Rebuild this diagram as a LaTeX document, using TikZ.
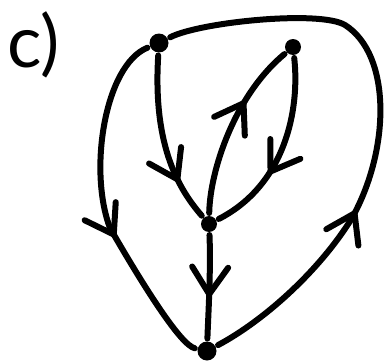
\documentclass[tikz,border=0pt]{standalone}
\usepackage{fontspec}
\setmainfont{Lato}
\usetikzlibrary{arrows.meta,decorations.markings}
\begin{document}
\begin{tikzpicture}[x=1pt, y=-1pt, line width=6pt, line cap=round, line join=round,
  vertex/.style={circle, fill=black, inner sep=0pt, minimum size=#1},
  vertex/.default=16pt,
  midarrow/.style={postaction={decorate}, decoration={markings, mark=at position #1 with {\arrow{Straight Barb[length=27pt, width=36pt, round]}}}}]
  \useasboundingbox (0,0) rectangle (386,364);
  \node[anchor=base west, inner sep=0pt, font=\fontsize{72}{72}\selectfont] (lbl) at (4,67) {c)};
  \node[vertex=19pt] (vtop) at (159,43) {};
  \node[vertex] (vright) at (293,47) {};
  \node[vertex] (vmid) at (209,224) {};
  \node[vertex=19pt] (vbot) at (207,351) {};
  \draw[midarrow=0.6] (vtop) .. controls (105,65) and (88,170) .. (110,228) .. controls (140,280) and (180,345) .. (vbot);
  \draw[midarrow=0.34] (vbot) .. controls (265,320) and (320,270) .. (352,218) .. controls (390,150) and (392,55) .. (345,25) .. controls (320,10) and (200,22) .. (vtop);
  \draw[midarrow=0.76] (vtop) .. controls (153,140) and (175,185) .. (vmid);
  \draw[midarrow=0.66] (vmid) .. controls (210,170) and (235,95) .. (vright);
  \draw[midarrow=0.64] (vright) .. controls (300,110) and (285,185) .. (vmid);
  \draw[midarrow=0.6] (vmid) .. controls (211,270) and (208,320) .. (vbot);
\end{tikzpicture}
\end{document}
